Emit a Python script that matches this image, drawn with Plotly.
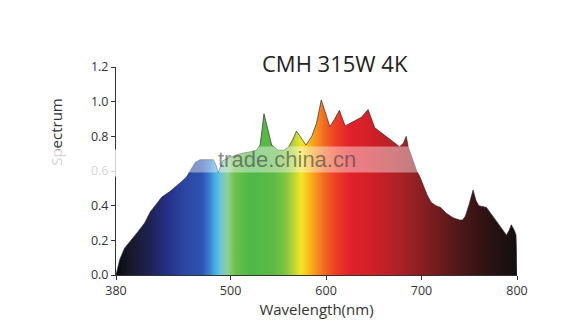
import plotly.graph_objects as go

# ---- data ----
wavelength = [380, 381, 384, 389, 396, 403, 410, 416, 421, 428, 436, 443, 449, 454, 459, 463,
              468, 475, 482, 485, 487, 489, 492, 500, 510, 520, 527, 531, 535, 539, 543, 550,
              556, 561, 565, 569, 573, 579, 585, 590, 595, 600, 604, 609, 614, 620, 628, 637,
              644, 651, 658, 665, 672, 677, 681, 684, 686, 690, 695, 698, 702, 706, 710, 715,
              720, 726, 733, 740, 743, 746, 750, 754, 757, 760, 768, 775, 782, 789, 792, 794,
              797, 799, 800]
spectrum = [0.0, 0.02, 0.09, 0.155, 0.20, 0.25, 0.30, 0.365, 0.40, 0.45, 0.48, 0.51, 0.54, 0.567, 0.615, 0.65,
            0.665, 0.665, 0.665, 0.63, 0.59, 0.62, 0.66, 0.68, 0.70, 0.71, 0.72, 0.75, 0.93, 0.84, 0.75, 0.72,
            0.72, 0.74, 0.78, 0.83, 0.80, 0.75, 0.80, 0.875, 1.01, 0.93, 0.856, 0.90, 0.95, 0.86, 0.885, 0.91,
            0.955, 0.85, 0.82, 0.79, 0.76, 0.74, 0.76, 0.80, 0.74, 0.68, 0.60, 0.57, 0.51, 0.46, 0.42, 0.40,
            0.39, 0.356, 0.33, 0.317, 0.317, 0.34, 0.41, 0.49, 0.43, 0.40, 0.39, 0.336, 0.28, 0.23, 0.26, 0.29,
            0.26, 0.23, 0.0]

x_ticks = [380, 500, 600, 700, 800]
y_ticks = [0.0, 0.2, 0.4, 0.6, 0.8, 1.0, 1.2]

# wavelength -> colour stops for the rainbow fill
color_nm = [380, 395, 415, 435, 450, 470, 478, 484, 490, 497, 505, 520, 545, 557, 566, 574,
            581, 588, 598, 610, 625, 650, 680, 710, 740, 770, 800]
color_hex = ["#0a0a0a", "#18182a", "#1e2250", "#25318a", "#2a45a0", "#2d52b2", "#3a7fd0", "#48b0e6",
             "#6cc6d8", "#8fd28e", "#6cc04a", "#4db848", "#5cbb45", "#80c342", "#b8d434", "#f2e528",
             "#f9c01d", "#f89a1c", "#f26a21", "#ee3e24", "#e3202a", "#cf2027", "#a62228", "#7a1d20",
             "#4e1719", "#2b1213", "#121010"]

x0, x1 = 380, 800
colorscale = [[(w - x0) / (x1 - x0), c] for w, c in zip(color_nm, color_hex)]

fig = go.Figure()
fig.add_trace(go.Scatter(
    x=wavelength, y=spectrum, mode="lines", fill="tozeroy",
    line=dict(color="rgba(40,40,40,0.85)", width=0.8),
    fillgradient=dict(type="horizontal", colorscale=colorscale, start=x0, stop=x1),
    hoverinfo="skip", showlegend=False,
))

tick_font = dict(family="Open Sans", size=12.5, color="#333")
fig.update_xaxes(
    range=[x0, x1], tickvals=x_ticks, ticks="outside", ticklen=4, tickcolor="#333",
    showline=True, linecolor="#333", linewidth=1, showgrid=False, zeroline=False,
    tickfont=tick_font,
    title=dict(text="Wavelength(nm)", font=dict(family="Open Sans", size=15, color="#333"), standoff=6),
)
fig.update_yaxes(
    range=[0, 1.2], tickvals=y_ticks, tickformat=".1f", ticks="outside", ticklen=4, tickcolor="#333",
    showline=True, linecolor="#333", linewidth=1, showgrid=False, zeroline=False,
    tickfont=tick_font,
)

annotations = [
    dict(text="CMH 315W 4K", xref="paper", yref="paper", x=0.546, y=1.017,
         xanchor="center", yanchor="middle", showarrow=False,
         font=dict(family="Open Sans", size=22, color="#222")),
    dict(text="Spectrum", xref="paper", yref="paper", x=-0.15, y=0.6875, textangle=-90,
         xanchor="center", yanchor="middle", showarrow=False,
         font=dict(family="Open Sans", size=15, color="#333")),
    # watermark band
    dict(text=" ", xref="paper", yref="paper", x=-0.0823, y=0.5385, width=86, height=26,
         borderpad=0, bgcolor="rgba(255,255,255,0.78)", showarrow=False,
         xanchor="center", yanchor="middle"),
    dict(text=" ", xref="paper", yref="paper", x=0.4638, y=0.5553, width=232, height=25,
         borderpad=0, bgcolor="rgba(255,255,255,0.42)", showarrow=False,
         xanchor="center", yanchor="middle"),
    dict(text="trade.china.cn", xref="paper", yref="paper", x=0.4264, y=0.5553,
         xanchor="center", yanchor="middle", showarrow=False,
         font=dict(family="Liberation Sans", size=22, color="rgba(60,60,60,0.6)")),
]

fig.update_layout(
    width=573, height=336, autosize=False,
    margin=dict(l=116, r=56, t=67, b=61),
    paper_bgcolor="white", plot_bgcolor="white",
    annotations=annotations,
)

fig.write_html("out.html")
